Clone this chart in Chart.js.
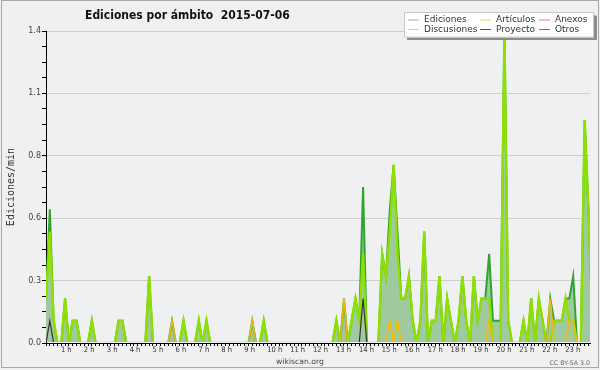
<!DOCTYPE html>
<html><head><meta charset="utf-8">
<script src="https://cdn.jsdelivr.net/npm/chart.js@4.4.1/dist/chart.umd.min.js"></script>
<style>html,body{margin:0;padding:0;background:#f0f0f0;}#wrap{width:600px;height:370px;position:relative;}canvas{display:block;}</style>
</head><body><div id="wrap"><canvas id="c" width="600" height="370"></canvas></div>
<script>
const chartTitle = 'Ediciones por ámbito  2015-07-06';
const yAxisTitle = 'Ediciones/min';
const footerLeft = 'wikiscan.org';
const footerRight = 'CC BY-SA 3.0';
const hourLabels = ['1 h','2 h','3 h','4 h','5 h','6 h','7 h','8 h','9 h','10 h','11 h','12 h','13 h','14 h','15 h','16 h','17 h','18 h','19 h','20 h','21 h','22 h','23 h'];
const slotsPerHour = 6;
const seriesNames = ['Ediciones','Artículos','Anexos','Discusiones','Proyecto','Otros'];
// 10-minute slots, edits per minute
const ediciones = [
 0.2,0.6,0.1,0,0,0.2,   0,0.1,0.1,0,0,0,   0.1,0,0,0,0,0,   0,0.1,0.1,0,0,0,
 0,0,0,0.3,0,0,   0,0,0,0.1,0,0,   0.1,0,0,0,0.1,0,   0.1,0,0,0,0,0,
 0,0,0,0,0,0,   0.1,0,0,0.1,0,0,   0,0,0,0,0,0,   0,0,0,0,0,0,
 0,0,0,0,0.1,0,   0.2,0,0.1,0.2,0.1,0.7,   0,0,0,0,0.4,0.3,   0.6,0.8,0.5,0.2,0.2,0.3,
 0.1,0,0.1,0.5,0,0.1,   0.1,0.3,0,0.2,0.1,0,   0.1,0.3,0.1,0,0.3,0.1,   0.2,0.2,0.4,0.1,0.1,0.1,
 1.4,0.1,0,0,0,0.1,   0,0.2,0,0.2,0.1,0,   0.2,0.1,0.1,0.1,0.2,0.2,   0.3,0,0,1.0,0.6,0.1
];
const articulos = [
 0.2,0.5,0.1,0,0,0.2,   0,0.1,0.1,0,0,0,   0.1,0,0,0,0,0,   0,0.1,0.1,0,0,0,
 0,0,0,0.3,0,0,   0,0,0,0,0,0,   0.1,0,0,0,0.1,0,   0.1,0,0,0,0,0,
 0,0,0,0,0,0,   0,0,0,0.1,0,0,   0,0,0,0,0,0,   0,0,0,0,0,0,
 0,0,0,0,0.1,0,   0,0,0.1,0.2,0.1,0.4,   0,0,0,0,0.4,0.3,   0.5,0.8,0.4,0.2,0.2,0.3,
 0.1,0,0.1,0.5,0,0.1,   0.1,0.3,0,0.2,0.1,0,   0.1,0.3,0.1,0,0.3,0.1,   0.2,0.2,0.2,0,0,0,
 1.4,0.1,0,0,0,0.1,   0,0.2,0,0.2,0.1,0,   0,0.1,0.1,0.1,0.2,0.1,   0.1,0,0,1.0,0.6,0.1
];
const anexos = [
 0,0,0,0,0,0, 0,0,0,0,0,0, 0,0,0,0,0,0, 0,0,0,0,0,0,
 0,0,0,0,0,0, 0,0,0,0,0,0, 0,0,0,0,0,0, 0,0,0,0,0,0,
 0,0,0,0,0,0, 0,0,0,0,0,0, 0,0,0,0,0,0, 0,0,0,0,0,0,
 0,0,0,0,0,0, 0,0,0,0,0,0, 0,0,0,0,0,0, 0,0,0,0,0,0,
 0,0,0,0,0,0, 0,0,0,0,0,0, 0,0,0,0,0,0, 0,0,0,0,0,0,
 0,0,0,0,0,0, 0,0,0,0,0,0, 0,0,0,0,0,0, 0,0,0,0,0,0
];
const discusiones = [
 0,0,0,0,0,0, 0,0,0,0,0,0, 0,0,0,0,0,0, 0,0,0,0,0,0,
 0,0,0,0,0,0, 0,0,0,0.1,0,0, 0,0,0,0,0,0, 0,0,0,0,0,0,
 0,0,0,0,0,0, 0.1,0,0,0,0,0, 0,0,0,0,0,0, 0,0,0,0,0,0,
 0,0,0,0,0,0, 0.2,0,0,0,0,0, 0,0,0,0,0,0, 0.1,0,0.1,0,0,0,
 0,0,0,0,0,0, 0,0,0,0,0,0, 0,0,0,0,0,0, 0,0,0.1,0,0,0,
 0,0,0,0,0,0, 0,0,0,0,0,0, 0.2,0,0,0,0,0.1, 0.1,0,0,0,0,0
];
const proyecto = [
 0,0.1,0,0,0,0, 0,0,0,0,0,0, 0,0,0,0,0,0, 0,0,0,0,0,0,
 0,0,0,0,0,0, 0,0,0,0,0,0, 0,0,0,0,0,0, 0,0,0,0,0,0,
 0,0,0,0,0,0, 0,0,0,0,0,0, 0,0,0,0,0,0, 0,0,0,0,0,0,
 0,0,0,0,0,0, 0,0,0,0,0,0.2, 0,0,0,0,0,0, 0,0,0,0,0,0,
 0,0,0,0,0,0, 0,0,0,0,0,0, 0,0,0,0,0,0, 0,0,0,0,0,0,
 0,0,0,0,0,0, 0,0,0,0,0,0, 0,0,0,0,0,0, 0,0,0,0,0,0
];
const otros = anexos.slice();
const yMajorTicks = [0, 0.28, 0.56, 0.84, 1.12, 1.4];
const yTickLabels = ['0.0','0.3','0.6','0.8','1.1','1.4'];
const yMinorStep = 0.07;
const yMax = 1.4;
const xMax = 142.4;

const slots = ediciones.map((_, i) => i);
const lineColors = {Ediciones:'#2fa52f', 'Artículos':'#8fe000', Anexos:'#f07848', Discusiones:'#f0bb10', Proyecto:'#333333', Otros:'#9a4ee8'};
const legendColors = ['#7fcc7f','#c4ee5a','#f08050','#f8cc40','#555555','#9a4ee8'];

const clipInside = {left: 0, top: 5, right: 0, bottom: -1};
function ds(label, data, color, width, order, fill) {
  return {label, data, borderColor: color, borderWidth: width, pointRadius: 0, tension: 0,
    fill: fill ? 'origin' : false, backgroundColor: fill || 'transparent', order, clip: clipInside,
    borderJoinStyle: 'miter'};
}

const framePlugin = {
  id: 'frame',
  beforeDraw(chart) {
    const {ctx, chartArea: a, width, height} = chart;
    ctx.save();
    ctx.fillStyle = '#f0f0f0'; ctx.fillRect(0, 0, width, height);
    ctx.fillStyle = '#eef0f2'; ctx.fillRect(a.left, a.top, a.right - a.left, a.bottom - a.top);
    ctx.strokeStyle = '#a8a8a8'; ctx.lineWidth = 1; ctx.strokeRect(1.5, 0.5, width - 3, height - 3);
    ctx.restore();
  },
  afterDraw(chart) {
    const {ctx} = chart;
    ctx.save();
    ctx.fillStyle = '#111';
    ctx.textBaseline = 'alphabetic'; ctx.textAlign = 'left';
    ctx.font = "bold 12px 'DejaVu Sans Condensed', 'DejaVu Sans'";
    ctx.fillText(chartTitle, 85, 18.7);
    // legend box
    ctx.fillStyle = '#8c8c8c'; ctx.fillRect(407, 15.5, 190, 24.5);
    ctx.fillStyle = '#ffffff'; ctx.fillRect(404, 12.5, 190, 25);
    ctx.strokeStyle = '#c8c8c8'; ctx.lineWidth = 1; ctx.strokeRect(404.5, 12.5, 189, 24.5);
    const colX = [408, 480, 539], rowY = [19.5, 29];
    ctx.font = "9px 'DejaVu Sans'"; ctx.textBaseline = 'middle';
    seriesNames.forEach((n, k) => {
      const c = k % 3, r = Math.floor(k / 3);
      ctx.strokeStyle = legendColors[k]; ctx.lineWidth = 1;
      ctx.beginPath(); ctx.moveTo(colX[c], rowY[r] + 0.5); ctx.lineTo(colX[c] + 11, rowY[r] + 0.5); ctx.stroke();
      ctx.fillStyle = '#333'; ctx.fillText(n, colX[c] + 16, rowY[r] + 0.5);
    });
    ctx.textBaseline = 'alphabetic';
    ctx.font = "7.7px 'DejaVu Sans'"; ctx.fillStyle = '#444'; ctx.textAlign = 'center';
    ctx.fillText(footerLeft, 300, 363.5);
    ctx.font = "6.3px 'DejaVu Sans'"; ctx.fillStyle = '#666'; ctx.textAlign = 'right';
    ctx.fillText(footerRight, 590, 365);
    ctx.restore();
  }
};

new Chart(document.getElementById('c'), {
  type: 'line',
  data: {
    labels: slots,
    datasets: [
      ds('Proyecto', proyecto, lineColors.Proyecto, 1.2, 1),
      ds('Otros', otros, lineColors.Otros, 1.2, 2),
      ds('Anexos', anexos, lineColors.Anexos, 1.2, 3),
      ds('Discusiones', discusiones, lineColors.Discusiones, 1.6, 4),
      ds('Artículos', articulos, lineColors['Artículos'], 2.4, 5),
      ds('Ediciones', ediciones, lineColors.Ediciones, 2, 6, '#a0c9a0')
    ]
  },
  options: {
    responsive: false, animation: false, devicePixelRatio: 1,
    layout: {padding: {left: 3, top: 31, right: 10, bottom: 0}},
    plugins: {legend: {display: false}, title: {display: false}, tooltip: {enabled: false}},
    scales: {
      x: {
        type: 'linear', min: 0, max: xMax, z: 1,
        afterFit(s) { s.height = 27; },
        afterBuildTicks(s) { s.ticks = slots.filter(v => v <= xMax).map(v => ({value: v})); },
        grid: {drawOnChartArea: false, tickLength: 3, tickColor: '#000', lineWidth: 1},
        border: {color: '#000', width: 1},
        ticks: {
          autoSkip: false, maxRotation: 0, minRotation: 0, align: 'start', labelOffset: -8, padding: 0,
          font: {family: "'DejaVu Sans Condensed', 'DejaVu Sans'", size: 7.5}, color: '#333',
          callback: v => (v > 0 && v % slotsPerHour === 0) ? hourLabels[v / slotsPerHour - 1] : ''
        }
      },
      y: {
        min: 0, max: yMax,
        afterFit(s) { s.width = 43; },
        afterBuildTicks(s) { const t = []; for (let k = 0; k * yMinorStep <= yMax + 1e-9; k++) t.push({value: +(k * yMinorStep).toFixed(2)}); s.ticks = t; },
        grid: {
          tickLength: 4, tickColor: '#000',
          color: c => yMajorTicks.some(m => Math.abs(m - c.tick.value) < 1e-6) && c.tick.value > 0 ? '#cfcfcf' : 'rgba(0,0,0,0)'
        },
        border: {color: '#000', width: 1},
        ticks: {
          padding: 1, font: {family: "'DejaVu Sans'", size: 8}, color: '#444',
          callback: v => { const k = yMajorTicks.findIndex(m => Math.abs(m - v) < 1e-6); return k >= 0 ? yTickLabels[k] : ''; }
        },
        title: {display: true, text: yAxisTitle, font: {family: "'DejaVu Sans Mono'", size: 10}, color: '#333', padding: {top: 2, bottom: 0}}
      }
    }
  },
  plugins: [framePlugin]
});
</script></body></html>
